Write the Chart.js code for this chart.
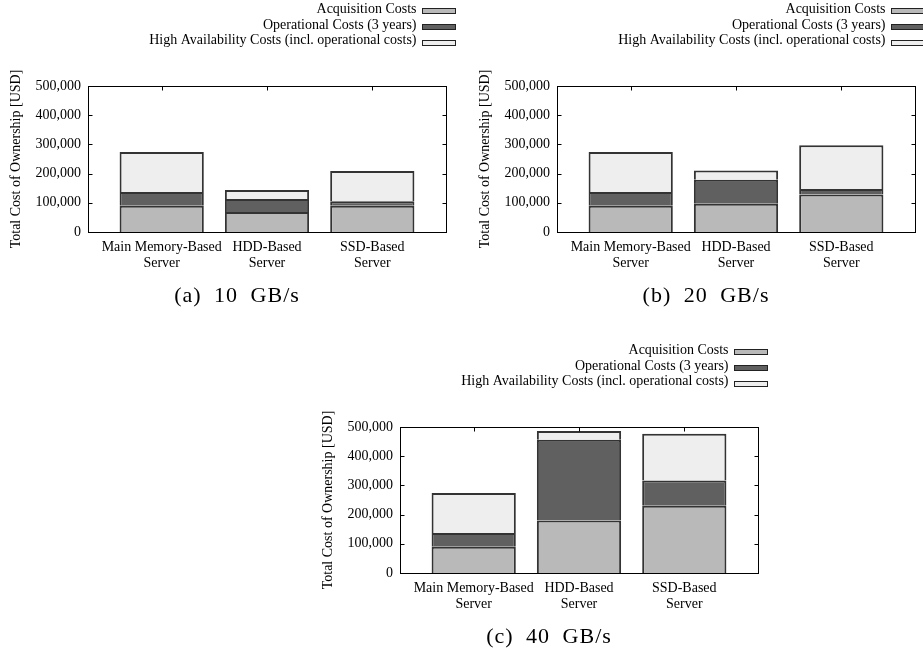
<!DOCTYPE html>
<html>
<head>
<meta charset="utf-8">
<script src="https://cdn.jsdelivr.net/npm/chart.js@4.4.1/dist/chart.umd.min.js"></script>
<style>
html, body { margin: 0; padding: 0; background: #fff; overflow: hidden; width: 923px; height: 657px; }
body { position: relative; }
canvas { position: absolute; }
</style>
</head>
<body>
<canvas id="c10" width="465" height="312" style="left:0px;top:0px"></canvas>
<canvas id="c20" width="465" height="312" style="left:469px;top:0px"></canvas>
<canvas id="c40" width="465" height="312" style="left:312px;top:341px"></canvas>
<script>
// ---- data ----
const categories = [['Main Memory-Based', 'Server'], ['HDD-Based', 'Server'], ['SSD-Based', 'Server']];
const seriesNames = ['Acquisition Costs', 'Operational Costs (3 years)', 'High Availability Costs (incl. operational costs)'];
const yTicks = [0, 100000, 200000, 300000, 400000, 500000];
const captions = ['(a) 10 GB/s', '(b) 20 GB/s', '(c) 40 GB/s'];

const acquisition10 = [90000, 68500, 90000];
const operational10 = [47000, 44500, 15000];
const highAvail10   = [137000, 31000, 104000];

const acquisition20 = [90000, 97000, 128000];
const operational20 = [47000, 82000, 19000];
const highAvail20   = [137000, 32000, 150000];

const acquisition40 = [90000, 180000, 230000];
const operational40 = [47000, 276000, 87000];
const highAvail40   = [137000, 30000, 160000];

// ---- styles ----
const seriesColors = ['#b9b9b9', '#606060', '#eeeeee'];
const FONT = 'Liberation Serif';
Chart.defaults.font.family = FONT;
Chart.defaults.font.size = 14;
Chart.defaults.color = '#000';

const gpDecor = {
  id: 'gpDecor',
  afterDatasetsDraw(chart) {
    const { ctx, chartArea: a, scales: { x, y } } = chart;
    ctx.save();
    ctx.strokeStyle = '#000';
    ctx.lineWidth = 1;
    const L = Math.round(a.left) + 0.5, T = Math.round(a.top) + 0.5;
    const R = Math.round(a.right) + 0.5, B = Math.round(a.bottom) + 0.5;
    ctx.strokeRect(L, T, R - L, B - T);
    ctx.beginPath();
    y.ticks.forEach(t => {
      const p = Math.round(y.getPixelForValue(t.value)) + 0.5;
      ctx.moveTo(L, p); ctx.lineTo(L + 4, p);
      ctx.moveTo(R, p); ctx.lineTo(R - 4, p);
    });
    x.ticks.forEach(t => {
      const p = Math.round(x.getPixelForValue(t.value)) + 0.5;
      ctx.moveTo(p, T); ctx.lineTo(p, T + 4);
    });
    ctx.stroke();
    ctx.restore();
  },
  afterDraw(chart, args, opts) {
    const { ctx, chartArea: a } = chart;
    ctx.save();
    // legend (gnuplot style: text right-aligned, swatch to the right)
    ctx.font = '14px "' + FONT + '"';
    ctx.textAlign = 'right';
    ctx.textBaseline = 'alphabetic';
    chart.data.datasets.forEach((ds, i) => {
      const baseY = 13 + i * 15.7;
      ctx.fillStyle = '#000';
      ctx.fillText(ds.label, a.right - 29.5, baseY);
      const sx = a.right - 23.5, sy = Math.round(baseY - 4.7) + 0.5;
      ctx.fillStyle = ds.backgroundColor;
      ctx.fillRect(sx, sy, 33, 5);
      ctx.strokeStyle = '#222';
      ctx.lineWidth = 1;
      ctx.strokeRect(sx, sy, 33, 5);
    });
    // caption
    ctx.font = '22px "' + FONT + '"';
    try { ctx.letterSpacing = '1px'; ctx.wordSpacing = '6px'; } catch (e) {}
    ctx.textAlign = 'center';
    ctx.fillStyle = '#000';
    ctx.fillText(opts.caption, 237, 302);
    ctx.restore();
  }
};

function makeChart(id, acq, op, ha, caption) {
  const sets = [acq, op, ha];
  return new Chart(document.getElementById(id), {
    type: 'bar',
    data: {
      datasets: sets.map((vals, k) => ({
        label: seriesNames[k],
        data: vals.map((v, i) => ({ x: i, y: v })),
        backgroundColor: seriesColors[k],
        borderColor: '#333333',
        borderWidth: 2,
        stack: 's',
        barPercentage: 0.8,
        categoryPercentage: 1.0
      }))
    },
    options: {
      responsive: false,
      animation: false,
      devicePixelRatio: 1,
      events: [],
      layout: { padding: { left: 0, top: 86, right: 19, bottom: 2 } },
      plugins: {
        legend: { display: false },
        title: { display: false },
        tooltip: { enabled: false },
        gpDecor: { caption: caption }
      },
      scales: {
        x: {
          type: 'linear',
          min: -0.7,
          max: 2.7,
          offset: false,
          grid: { display: false, drawTicks: false },
          border: { display: false },
          afterBuildTicks: s => { s.ticks = categories.map((c, i) => ({ value: i })); },
          afterFit: s => { s.height = 78; },
          ticks: {
            autoSkip: false,
            maxRotation: 0,
            padding: 7,
            font: { size: 14, lineHeight: 16 / 14 },
            color: '#000',
            callback: v => categories[v]
          }
        },
        y: {
          type: 'linear',
          stacked: true,
          min: 0,
          max: 500000,
          grid: { display: false, drawTicks: false },
          border: { display: false },
          afterBuildTicks: s => { s.ticks = yTicks.map(v => ({ value: v })); },
          afterFit: s => { s.width = 88; },
          ticks: {
            padding: 7,
            font: { size: 14 },
            color: '#000',
            callback: v => Number(v).toLocaleString('en-US')
          },
          title: {
            display: true,
            text: 'Total Cost of Ownership [USD]',
            font: { size: 14 },
            color: '#000',
            padding: { top: 8, bottom: 0 }
          }
        }
      }
    },
    plugins: [gpDecor]
  });
}

makeChart('c10', acquisition10, operational10, highAvail10, captions[0]);
makeChart('c20', acquisition20, operational20, highAvail20, captions[1]);
makeChart('c40', acquisition40, operational40, highAvail40, captions[2]);
</script>
</body>
</html>
